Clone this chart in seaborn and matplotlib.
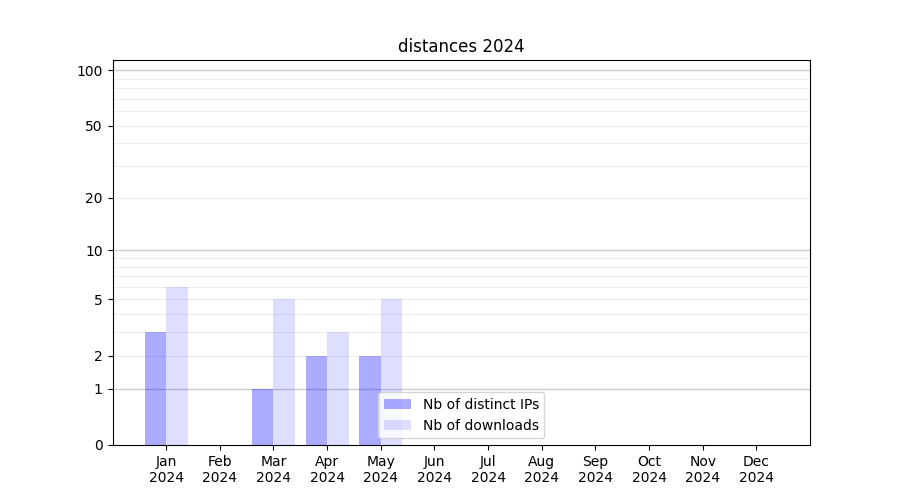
import numpy as np
import pandas as pd
import seaborn as sns
import matplotlib
matplotlib.use('Agg')
import matplotlib.pyplot as plt

months = ['Jan\n2024', 'Feb\n2024', 'Mar\n2024', 'Apr\n2024', 'May\n2024', 'Jun\n2024',
          'Jul\n2024', 'Aug\n2024', 'Sep\n2024', 'Oct\n2024', 'Nov\n2024', 'Dec\n2024']
distinct_ips = [3, 0, 1, 2, 2, 0, 0, 0, 0, 0, 0, 0]
downloads = [6, 0, 5, 3, 5, 0, 0, 0, 0, 0, 0, 0]
series = ['Nb of distinct IPs', 'Nb of downloads']
colors = [(0, 0, 1, 0.33), (0, 0, 1, 0.13)]
yticks = [0, 1, 2, 5, 10, 20, 50, 100]

df = pd.DataFrame({
    'month': months * 2,
    'value': distinct_ips + downloads,
    'series': [series[0]] * len(months) + [series[1]] * len(months),
})

fig, ax = plt.subplots(figsize=(9, 5), dpi=100)

major = [1, 10, 100]
minor = [2, 3, 4, 5, 6, 7, 8, 9, 20, 30, 40, 50, 60, 70, 80, 90]

sns.barplot(data=df, x='month', y='value', hue='series', order=months,
            hue_order=series, palette=['#aaaaff', '#ddddff'], saturation=1,
            width=0.8, ax=ax)

# transparent bars so the grid shows through
for cont, c in zip(ax.containers, colors):
    for p in cont:
        p.set_facecolor(c)
        p.set_edgecolor('none')
        p.set_zorder(2)

# log(1+x) axis
ax.set_yscale('function', functions=(lambda v: np.log10(1 + np.clip(v, -0.999, None)),
                                     lambda v: 10 ** v - 1))
ax.set_ylim(0, 113.5)
ax.set_xlim(-1, 12)
ax.set_yticks(yticks)
ax.set_yticklabels([str(t) for t in yticks])
ax.set_yticks(minor, minor=True)
ax.tick_params(axis='y', which='minor', length=0)
for v in major:
    ax.axhline(v, color='#cccccc', lw=1, zorder=1)
for v in minor:
    ax.axhline(v, color='#eeeeee', lw=0.8, zorder=1)

ax.set_xlabel('')
ax.set_ylabel('')
ax.set_title('distances 2024')
ax.get_legend().remove()
ax.legend(ax.containers, series, loc='lower center')

fig.savefig('out.png')
